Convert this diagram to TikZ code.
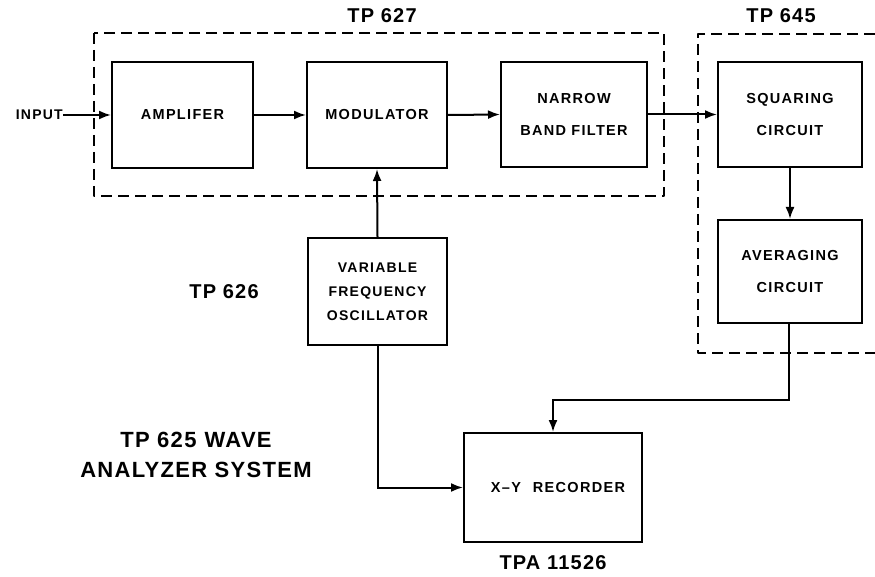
\documentclass[tikz,border=0pt]{standalone}
\usepackage{fontspec}
\setmainfont{Liberation Sans}[BoldFont={* Bold}]
\newfontfamily\lblfont{Liberation Sans Bold}[LetterSpace=9]
\newfontfamily\bigfont{Liberation Sans Bold}[LetterSpace=6]
\usetikzlibrary{arrows.meta}
\begin{document}
\begin{tikzpicture}[x=1pt,y=-1pt,
  blk/.style={draw,line width=2pt,inner sep=0pt,align=center,
    font=\lblfont\fontsize{14.5}{32}\selectfont},
  group/.style={line width=2.5pt,dash pattern=on 11pt off 6pt,line join=round},
  conn/.style={line width=2pt,-{Latex[length=12pt,width=9pt]}},
  lbl/.style={font=\bigfont\fontsize{20}{24}\selectfont,inner sep=0pt},
  big/.style={font=\bigfont\fontsize{22}{30}\selectfont,inner sep=0pt,align=center}]
\useasboundingbox (0,0) rectangle (875,577);
% blocks
\node[blk,minimum width=141pt,minimum height=106pt] (amp) at (182.5,115) {AMPLIFER};
\node[blk,minimum width=140pt,minimum height=106pt] (mod) at (377,115) {MODULATOR};
\node[blk,minimum width=146pt,minimum height=105pt] (nbf) at (574,114.5) {NARROW\\BAND FILTER};
\node[blk,minimum width=144pt,minimum height=105pt] (sq) at (790,114.5) {SQUARING\\CIRCUIT};
\node[blk,minimum width=144pt,minimum height=103pt] (avg) at (790,271.5) {AVERAGING\\CIRCUIT};
\node[blk,minimum width=139pt,minimum height=107pt,font=\lblfont\fontsize{14}{24}\selectfont] (vfo) at (377.5,291.5) {VARIABLE\\FREQUENCY\\OSCILLATOR};
\node[blk,minimum width=178pt,minimum height=109pt] (xy) at (553,487.5) {\hspace*{10pt}X–Y\hspace{12pt}RECORDER};
% groups
\draw[group] (94,33) rectangle (664,196);
\draw[group] (875,34) -- (698,34) -- (698,353) -- (875,353);
% labels
\node[lbl] (t627) at (382,16) {TP 627};
\node[lbl] (t645) at (781,16) {TP 645};
\node[lbl] (t626) at (224,292) {TP 626};
\node[lbl] (tpa) at (553,563) {TPA 11526};
\node[big] (sys) at (196,455) {TP 625\hspace{8pt}WAVE\\ANALYZER SYSTEM};
\node[font=\lblfont\fontsize{14}{16}\selectfont,inner sep=0pt,anchor=east] (inp) at (63,115) {INPUT};
% connectors
\draw[conn] (inp.east) -- (amp.west);
\draw[conn] (amp.east) -- (mod.west);
\draw[conn] (mod.east) -- (nbf.west);
\draw[conn] (nbf.east) -- (sq.west);
\draw[conn] (sq.south) -- (avg.north);
\draw[conn] (vfo.north) -- (mod.south);
\draw[conn] (vfo.south) |- (xy.west |- 0,487.5);
\coordinate (c1) at (789,400);
\coordinate (c2) at (553,400);
\draw[conn] (avg.south -| c1) -- (c1) -- (c2) -- (xy.north);
\end{tikzpicture}
\end{document}
